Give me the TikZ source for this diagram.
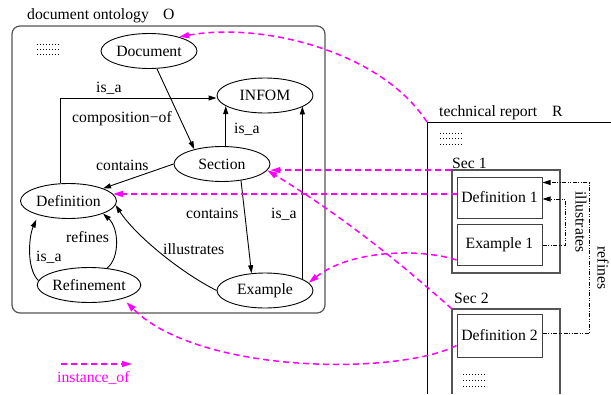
\documentclass[tikz,border=0pt]{standalone}
\usepackage{fontspec}
\setmainfont{Liberation Serif}
\usetikzlibrary{arrows.meta,calc,shapes.geometric}
\definecolor{instcol}{RGB}{255,0,255}
\definecolor{frame}{RGB}{85,85,85}
\begin{document}
\begin{tikzpicture}[x=1pt,y=-1pt,
  font=\fontsize{15.7}{18}\selectfont,
  concept/.style={ellipse,draw,line width=0.9pt,minimum width=96pt,minimum height=35pt,inner sep=0pt},
  rel/.style={-{Triangle[length=8pt,width=5pt]},line width=0.9pt},
  lbl/.style={anchor=base west,inner sep=0pt},
  instof/.style={-{Triangle[length=10pt,width=6pt]},color=instcol,line width=1.5pt,dash pattern=on 6pt off 4pt},
  docbox/.style={rectangle,draw=black!75,line width=1pt,minimum width=85pt,minimum height=41pt,inner sep=0pt},
  secbox/.style={rectangle,draw=frame,line width=1.3pt,inner sep=0pt},
  link/.style={-{Triangle[length=8pt,width=5pt]},line width=0.8pt,dash pattern=on 4pt off 1.5pt on 1pt off 1.5pt on 1pt off 1.5pt},
  moredots/.style={line width=1pt,dash pattern=on 1pt off 2pt},
]
\useasboundingbox (0,0) rectangle (611,394);

% ---------- document ontology O ----------
\draw[frame,line width=1.2pt,rounded corners=8pt] (12,26) rectangle (325,313);
\node[lbl] (otitle) at (27,19) {document ontology};
\node[lbl] (oname) at (163,19) {O};
\foreach \yy in {44,49,54} \draw[moredots] (37,\yy) -- (60,\yy);

\node[concept] (Document)   at (149,51)    {Document};
\node[concept] (INFOM)      at (265,95.5)  {INFOM};
\node[concept] (Section)    at (222,164)   {Section};
\node[concept] (Definition) at (68.5,201)  {Definition};
\node[concept] (Refinement) at (89,285)    {Refinement};
\node[concept] (Example)    at (265,290.5) {Example};

% relations inside the ontology
\draw[rel] ([xshift=8pt]Document.south) -- (Section.152);
\draw[rel] ([xshift=-8pt]Definition.north) |- ([yshift=-2.5pt]INFOM.west);
\draw[rel] (Section.north -| INFOM.195) -- (INFOM.195);
\draw[rel] (Example.17) -- (Example.17 |- INFOM.344);
\draw[rel] (Section.west) -- (Definition.20);
\draw[rel] (Section.319) -- (Example.128);
\draw[rel] (Example.west) .. controls (180,272) and (135,235) .. (Definition.-5);
\draw[rel] (Refinement.43) .. controls (120,258) and (119,228) .. (Definition.340);
\draw[rel,shorten >=5pt] (Refinement.175) .. controls (26,268) and (29,236) .. (Definition.205);

\node[lbl] (l1) at (96,92)   {is\_a};
\node[lbl] (l2) at (72,122)  {composition−of};
\node[lbl] (l3) at (234,133) {is\_a};
\node[lbl] (l4) at (96,170)  {contains};
\node[lbl] (l5) at (186,218) {contains};
\node[lbl] (l6) at (271,218) {is\_a};
\node[lbl] (l7) at (66,242)  {refines};
\node[lbl] (l8) at (163,254) {illustrates};
\node[lbl] (l9) at (36,261)  {is\_a};

% ---------- technical report R ----------
\coordinate (Rcorner) at (427,122);
\draw[line width=0.9pt] (427,394) -- (Rcorner) -- (611,122);
\node[lbl] (rtitle) at (439,116) {technical report};
\node[lbl] (rname) at (552,116) {R};
\foreach \yy in {133,138.5,144} \draw[moredots] (440,\yy) -- (464,\yy);

\node[secbox,minimum width=108pt,minimum height=103pt] (Sec1) at (506,221.5) {};
\node[lbl] (s1) at (452,168) {Sec 1};
\node[docbox] (Def1) at (499.5,197.5) {Definition 1};
\node[docbox] (Ex1)  at (499.5,245)   {Example 1};

\coordinate (Sec2) at (452,309);
\draw[frame,line width=1.3pt] (452,394) -- (Sec2) -- (560,309) -- (560,394);
\node[lbl] (s2) at (454,303) {Sec 2};
\node[docbox,minimum height=43pt] (Def2) at (499.5,335.5) {Definition 2};
\foreach \yy in {374,380,386} \draw[moredots] (463,\yy) -- (487,\yy);

% relations between report parts
\draw[link] (Ex1.east) -- (565,245) |- ([yshift=-1.5pt]Def1.east);
\draw[link] ([yshift=2pt]Def2.east) -- (589,333.5) |- ([yshift=15pt]Def1.east);
\node[rotate=-90,inner sep=0pt] (lill) at (581,222) {illustrates};
\node[rotate=-90,inner sep=0pt] (lref) at (603,268) {refines};

% ---------- instance_of links ----------
\coordinate (Sec1top) at ([yshift=-0.75pt]Sec1.north west);
\draw[instof] (Rcorner) .. controls (380,50) and (260,22) .. (Document.25);
\draw[instof] (Sec1top) -- (Section.east |- Sec1top);
\draw[instof] (Def1.west |- Definition.9) -- (Definition.9);
\draw[instof] ([yshift=6pt]Ex1.south west) .. controls (420,248) and (350,250) .. (Example.10);
\draw[instof] (Sec2) .. controls (395,258) and (336,212) .. (Section.-8);
\draw[instof,shorten >=5pt] ([yshift=-10pt]Def2.west) .. controls (400,375) and (200,375) .. (Refinement.-22);

% legend
\coordinate (legA) at (61,364);
\coordinate (legB) at (132,364);
\draw[instof] (legA) -- (legB);
\node[lbl,text=instcol] (legtext) at (57,382) {instance\_of};
\end{tikzpicture}
\end{document}
